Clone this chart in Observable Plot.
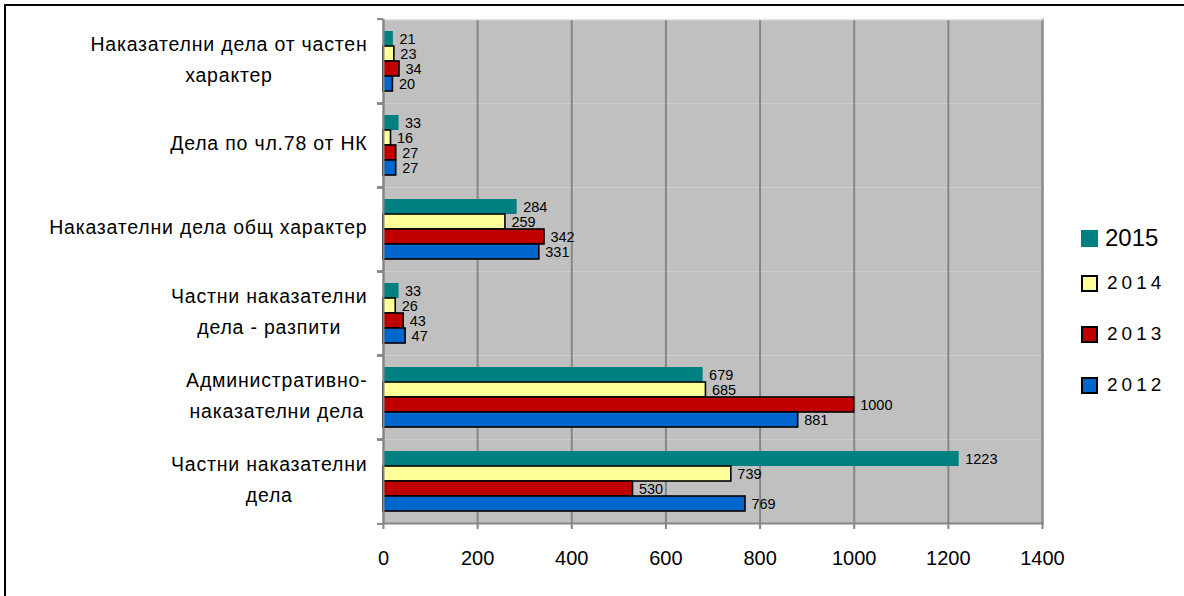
<!DOCTYPE html>
<html>
<head>
<meta charset="utf-8">
<script src="https://cdn.jsdelivr.net/npm/d3@7"></script>
<script src="https://cdn.jsdelivr.net/npm/@observablehq/plot@0.6"></script>
<style>
  html, body { margin: 0; padding: 0; background: #fff; overflow: hidden; }
  #wrap { position: relative; width: 1184px; height: 596px; font-family: "Liberation Sans", Arial, sans-serif; }
  #border { position: absolute; left: 4px; top: 4px; width: 1200px; height: 620px; border-left: 2px solid #000; border-top: 2px solid #000; pointer-events: none; }
  #legend { position: absolute; left: 1081px; top: 224px; }
  .item { position: absolute; left: 0; display: flex; align-items: center; white-space: nowrap; color: #000; }
  .sw { width: 13px; height: 13px; border: 2px solid #000; margin-right: 9px; }
</style>
</head>
<body>
<div id="wrap"><div id="border"></div><div id="legend"></div></div>
<script>
const categories = [
  "Наказателни дела от частен\nхарактер",
  "Дела по чл.78 от НК",
  "Наказателни дела общ характер",
  "Частни наказателни\nдела - разпити",
  "Административно-\nнаказателни дела",
  "Частни наказателни\nдела"
];
const years = ["2015", "2014", "2013", "2012"];
const v2015 = [21, 33, 284, 33, 679, 1223];
const v2014 = [23, 16, 259, 26, 685, 739];
const v2013 = [34, 27, 342, 43, 1000, 530];
const v2012 = [20, 27, 331, 47, 881, 769];
const colors = ["#008080", "#ffff99", "#c00000", "#0066cc"];
const xTicks = [0, 200, 400, 600, 800, 1000, 1200, 1400];

const series = {"2015": v2015, "2014": v2014, "2013": v2013, "2012": v2012};
const data = [];
categories.forEach((c, i) => years.forEach(y => data.push({category: c, year: y, value: series[y][i]})));

const W = 1184, H = 596, mT = 16, mB = 71, mL = 383, mR = 142;
const fh = (H - mT - mB) / categories.length;

const chart = Plot.plot({
  width: W, height: H,
  marginTop: mT, marginBottom: mB, marginLeft: mL, marginRight: mR,
  style: {fontFamily: "'Liberation Sans', Arial, sans-serif", background: "transparent", overflow: "visible"},
  x: {domain: [0, 1400], ticks: xTicks},
  y: {domain: years, paddingInner: 0, paddingOuter: 0.77, axis: null},
  fy: {domain: categories, padding: 0},
  color: {domain: years, range: colors},
  marks: [
    Plot.frame({fill: "#c0c0c0"}),
    Plot.gridX({ticks: xTicks, stroke: "#868686", strokeOpacity: 1, strokeWidth: 2}),
    Plot.frame({anchor: "right", stroke: "#8c8c8c", strokeWidth: 2}),
    Plot.frame({anchor: "top", facetAnchor: "top", stroke: "#e6e6e6", strokeWidth: 1.5}),
    Plot.barX(data.filter(d => d.year === "2015"), {x: "value", y: "year", fy: "category", fill: d => d.year}),
    Plot.barX(data.filter(d => d.year !== "2015"), {x: "value", y: "year", fy: "category", fill: d => d.year, stroke: "#000", strokeWidth: 1.6}),
    Plot.text(data, {x: "value", y: "year", fy: "category", text: d => String(d.value), textAnchor: "start", dx: 6, fontSize: 14.5, fill: "#000"}),
    Plot.ruleX([0], {stroke: "#868686", strokeWidth: 2}),
    Plot.frame({anchor: "bottom", facetAnchor: "bottom", stroke: "#868686", strokeWidth: 2}),
    Plot.axisX({anchor: "bottom", ticks: xTicks, tickSize: 6, tickPadding: 21, stroke: "#868686", strokeWidth: 2, fontSize: 20, fill: "#000", label: null, tickFormat: d => String(d)}),
    Plot.axisFy({anchor: "left", tickSize: 6, fill: "none", stroke: "#868686", strokeWidth: 2, dy: -fh / 2, label: null}),
    Plot.axisFy({anchor: "left", tickSize: 6, fill: "none", stroke: "#868686", strokeWidth: 2, dy: fh / 2, label: null}),
    Plot.axisFy({anchor: "left", tickSize: 0, tickPadding: 16, dy: -5, fontSize: 19.5, lineHeight: 1.6, fill: "#000", label: null, tickFormat: d => d})
  ]
});
chart.style.position = "absolute";
chart.style.left = "0px";
chart.style.top = "0px";
document.getElementById("wrap").appendChild(chart);

// center the lines of multi-line category labels within their block
chart.querySelectorAll('g[aria-label="fy-axis tick label"] text').forEach(t => {
  t.style.letterSpacing = "0.8px";
  const spans = t.querySelectorAll("tspan");
  if (spans.length < 2) return;
  const w = t.getBBox().width;
  t.setAttribute("text-anchor", "middle");
  spans.forEach(s => s.setAttribute("x", -w / 2));
});

// legend
const legend = document.getElementById("legend");
years.forEach((y, i) => {
  const it = document.createElement("div");
  it.className = "item";
  it.style.top = (i * 51 - (i === 0 ? 0 : 3)) + "px";
  const sw = document.createElement("div");
  sw.className = "sw";
  sw.style.background = colors[i];
  if (i === 0) { sw.style.border = "none"; sw.style.width = "17px"; sw.style.height = "17px"; sw.style.marginRight = "7px"; }
  const tx = document.createElement("span");
  tx.textContent = y;
  if (i === 0) { tx.style.fontSize = "24px"; }
  else { tx.style.fontSize = "19px"; tx.style.letterSpacing = "4px"; }
  it.appendChild(sw); it.appendChild(tx);
  legend.appendChild(it);
});
</script>
</body>
</html>
